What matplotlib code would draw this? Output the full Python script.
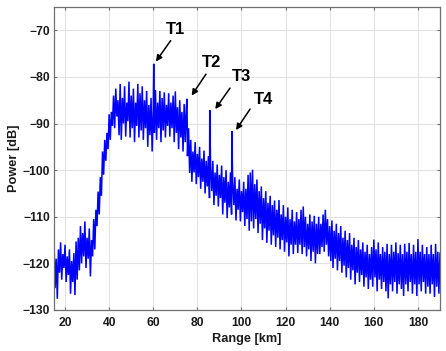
import numpy as np
import matplotlib
matplotlib.use("Agg")
import matplotlib.pyplot as plt

# --- data (per-km upper / lower extents of the noisy trace) ---
range_km = list(range(15, 191))
upper_db = [
    -115.3, -119.0, -117.0, -115.5, -118.0, -116.0, -118.5, -117.0, -119.5, -117.8,  # 15-24
    -115.3, -114.5, -112.0, -113.5, -111.0, -114.5, -112.5, -115.0, -110.5, -108.5,  # 25-34
    -104.6, -101.5, -96.0, -93.5, -92.0, -88.0, -87.5, -84.0, -82.5, -85.0,          # 35-44
    -81.5, -84.5, -82.0, -85.5, -81.0, -84.0, -82.5, -85.5, -81.5, -83.5,            # 45-54
    -82.0, -85.0, -83.0, -86.0, -84.5, -87.0, -82.8, -85.5, -83.0, -84.5,            # 55-64
    -83.3, -86.0, -83.5, -85.5, -84.0, -83.1, -86.5, -85.0, -87.5, -85.8,            # 65-74
    -86.5, -91.0, -93.5, -96.0, -94.0, -96.5, -95.0, -97.5, -95.8, -98.0,            # 75-84
    -97.0, -99.5, -98.0, -100.5, -98.8, -101.0, -99.0, -101.5, -100.0, -102.5,       # 85-94
    -100.5, -102.5, -101.5, -104.0, -102.0, -104.5, -102.5, -104.0, -101.0, -100.5,  # 95-104
    -99.9, -103.0, -102.0, -104.5, -103.5, -106.0, -104.5, -107.0, -105.5, -107.5,   # 105-114
    -106.5, -108.5, -106.4, -109.5, -107.5, -110.0, -108.0, -110.5, -108.5, -111.0,  # 115-124
    -109.0, -110.5, -108.5, -107.8, -110.0, -111.5, -109.5, -111.0, -109.8, -111.5,  # 125-134
    -110.0, -111.5, -109.5, -108.5, -110.5, -112.0, -110.8, -113.0, -111.5, -113.5,  # 135-144
    -112.0, -114.5, -113.0, -115.0, -113.5, -116.0, -114.5, -116.5, -115.0, -117.0,  # 145-154
    -115.5, -117.5, -116.0, -118.0, -116.5, -114.9, -117.0, -115.5, -118.0, -116.5,  # 155-164
    -117.5, -115.8, -118.0, -116.0, -117.5, -115.5, -117.8, -116.0, -118.0, -115.8,  # 165-174
    -117.5, -115.6, -118.0, -116.0, -117.5, -114.8, -117.5, -116.0, -118.0, -116.5,  # 175-184
    -118.0, -116.0, -118.0, -115.8, -117.5, -117.8,                                  # 185-190
]
lower_db = [
    -125.3, -127.6, -122.0, -123.5, -121.0, -124.0, -122.5, -126.5, -124.0, -126.8,  # 15-24
    -123.5, -121.5, -120.0, -118.5, -121.0, -119.0, -122.8, -118.5, -117.0, -112.0,  # 25-34
    -109.5, -105.5, -101.0, -98.0, -95.5, -93.5, -90.5, -91.0, -88.5, -92.5,         # 35-44
    -93.5, -90.0, -92.8, -89.5, -93.0, -91.0, -94.0, -90.5, -93.0, -91.5,            # 45-54
    -93.5, -91.0, -95.0, -92.5, -96.0, -92.0, -93.5, -91.0, -94.0, -91.5,            # 55-64
    -93.0, -90.5, -92.8, -91.0, -94.0, -92.0, -95.5, -93.0, -96.0, -94.0,            # 65-74
    -97.0, -100.6, -102.5, -100.5, -103.0, -101.5, -104.0, -102.5, -105.0, -103.5,   # 75-84
    -106.0, -104.5, -107.5, -105.5, -107.8, -106.0, -109.5, -107.0, -110.3, -108.0,  # 85-94
    -109.5, -107.5, -110.8, -108.5, -111.0, -109.0, -112.0, -110.5, -113.0, -111.0,  # 95-104
    -112.5, -110.5, -113.5, -111.5, -115.0, -112.5, -115.6, -113.0, -116.0, -114.0,  # 105-114
    -116.5, -114.5, -117.0, -115.0, -117.5, -115.5, -118.5, -116.0, -118.0, -116.0,  # 115-124
    -117.8, -116.0, -118.0, -116.5, -118.5, -117.0, -119.5, -117.5, -120.0, -118.0,  # 125-134
    -118.0, -116.5, -117.5, -116.0, -118.5, -119.5, -121.0, -119.0, -121.5, -119.5,  # 135-144
    -122.0, -120.5, -123.0, -121.0, -123.5, -121.5, -124.5, -122.0, -124.0, -122.5,  # 145-154
    -125.0, -123.0, -125.5, -123.5, -125.0, -123.0, -126.0, -123.5, -125.5, -124.0,  # 155-164
    -126.0, -127.5, -124.5, -126.0, -124.0, -126.5, -124.5, -125.5, -127.0, -124.5,  # 165-174
    -126.0, -124.0, -126.5, -124.5, -127.0, -124.5, -126.0, -124.0, -126.5, -125.0,  # 175-184
    -126.5, -124.5, -127.2, -125.0, -126.5, -128.1,                                  # 185-190
]
# reflection peaks
peak_labels = ["T1", "T2", "T3", "T4"]
peak_km = [60.2, 75.3, 85.6, 95.6]
peak_db = [-77.2, -84.7, -87.1, -91.6]
# annotation text / arrow positions (data coords)
label_km = [70.2, 86.6, 99.9, 109.9]
label_db = [-69.8, -76.8, -79.9, -84.8]
tail_km = [67.9, 83.9, 94.8, 103.9]
tail_db = [-72.2, -79.4, -82.4, -86.9]
head_km = [61.2, 77.4, 88.1, 97.5]
head_db = [-76.7, -84.0, -86.9, -91.4]

x_ticks = [20, 40, 60, 80, 100, 120, 140, 160, 180]
y_ticks = [-130, -120, -110, -100, -90, -80, -70]

# --- build trace: upper value at km, lower value at km+0.5, plus peaks merged in ---
xs, ys = [], []
for k, u, l in zip(range_km, upper_db, lower_db):
    xs += [k, k + 0.5]
    ys += [u, l]
xs = xs[:-1]
ys = ys[:-1]
for pk, pd in zip(peak_km, peak_db):
    xs.append(pk)
    ys.append(pd)
order = np.argsort(xs, kind="stable")
xs = np.array(xs)[order]
ys = np.array(ys)[order]

plt.rcParams["font.family"] = ["Liberation Sans", "DejaVu Sans"]
plt.rcParams["font.weight"] = "bold"

fig = plt.figure(figsize=(4.46, 3.51), dpi=100)
ax = fig.add_axes([54 / 446, 41 / 351, 386 / 446, 303 / 351])
ax.plot(xs, ys, color="#0000ff", lw=1.1, solid_joinstyle="miter")

ax.set_xlim(15, 190)
ax.set_ylim(-130, -65)
ax.set_xticks(x_ticks)
ax.set_yticks(y_ticks)
ax.grid(True, color="#e3e3e3", lw=0.8)
ax.set_axisbelow(True)
for s in ax.spines.values():
    s.set_color("#707070")
    s.set_linewidth(0.9)
ax.tick_params(direction="in", length=2.5, width=0.8, color="#707070",
               top=True, right=True, labelsize=8.7, labelcolor="#1a1a1a")
ax.tick_params(axis="x", pad=5)
ax.tick_params(axis="y", pad=3)
for lab in ax.get_xticklabels() + ax.get_yticklabels():
    lab.set_fontweight("bold")
ax.set_xlabel("Range [km]", fontsize=9.2, fontweight="bold", color="#1a1a1a", labelpad=3)
ax.set_ylabel("Power [dB]", fontsize=9.2, fontweight="bold", color="#1a1a1a", labelpad=2)

for lab, lk, ld, tk, td, hk, hd in zip(peak_labels, label_km, label_db, tail_km,
                                        tail_db, head_km, head_db):
    ax.annotate("", xy=(hk, hd), xytext=(tk, td),
                arrowprops=dict(arrowstyle="-|>", color="black", lw=1.1,
                                mutation_scale=9, shrinkA=0, shrinkB=0))
    ax.text(lk, ld, lab, ha="center", va="center", fontsize=12,
            fontweight="bold", color="black")

fig.savefig("out.png", dpi=100)
